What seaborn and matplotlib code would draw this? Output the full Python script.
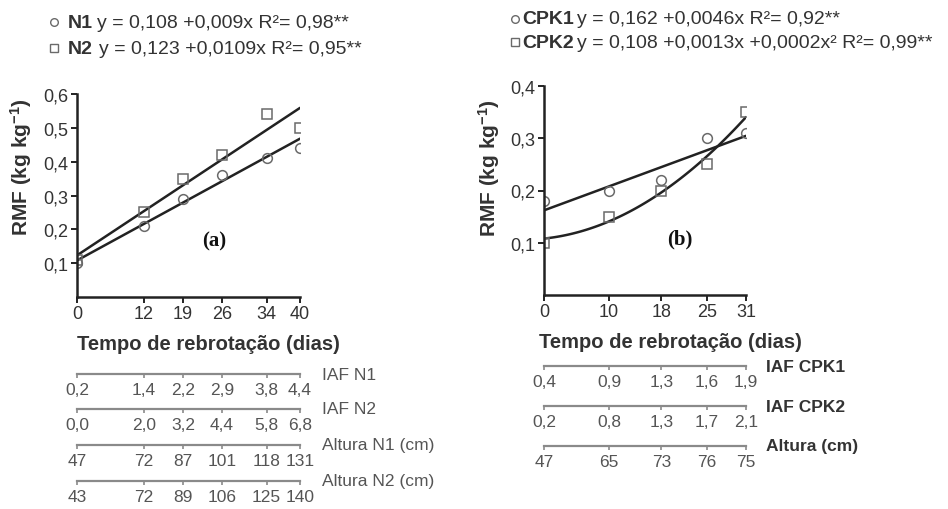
import numpy as np
import pandas as pd
import matplotlib
matplotlib.use("Agg")
import matplotlib.pyplot as plt
from matplotlib.lines import Line2D
import seaborn as sns

# ---------------- data ----------------
dias_a = [0, 12, 19, 26, 34, 40]
rmf_n1 = [0.10, 0.21, 0.29, 0.36, 0.41, 0.44]
rmf_n2 = [0.11, 0.25, 0.35, 0.42, 0.54, 0.50]
coef_n1 = [0.108, 0.009]
coef_n2 = [0.123, 0.0109]

dias_b = [0, 10, 18, 25, 31]
rmf_cpk1 = [0.18, 0.20, 0.22, 0.30, 0.31]
rmf_cpk2 = [0.10, 0.15, 0.20, 0.25, 0.35]
coef_cpk1 = [0.162, 0.0046]
coef_cpk2 = [0.108, 0.0013, 0.0002]

yticks_a = [0.1, 0.2, 0.3, 0.4, 0.5, 0.6]
yticks_b = [0.1, 0.2, 0.3, 0.4]

iaf_n1 = [0.2, 1.4, 2.2, 2.9, 3.8, 4.4]
iaf_n2 = [0.0, 2.0, 3.2, 4.4, 5.8, 6.8]
alt_n1 = [47, 72, 87, 101, 118, 131]
alt_n2 = [43, 72, 89, 106, 125, 140]
rows_a = ["IAF N1", "IAF N2", "Altura N1 (cm)", "Altura N2 (cm)"]

iaf_cpk1 = [0.4, 0.9, 1.3, 1.6, 1.9]
iaf_cpk2 = [0.2, 0.8, 1.3, 1.7, 2.1]
alt_b = [47, 65, 73, 76, 75]
rows_b = ["IAF CPK1", "IAF CPK2", "Altura (cm)"]

hdr_a = [("N1", "y = 0,108 +0,009x R\u00b2= 0,98**"),
         ("N2", "y = 0,123 +0,0109x R\u00b2= 0,95**")]
hdr_b = [("CPK1", "y = 0,162 +0,0046x R\u00b2= 0,92**"),
         ("CPK2", "y = 0,108 +0,0013x +0,0002x\u00b2 R\u00b2= 0,99**")]

# ---------------- style ----------------
sns.set_style("ticks")
plt.rcParams["font.family"] = ["Liberation Sans", "DejaVu Sans"]
plt.rcParams["mathtext.fontset"] = "custom"
plt.rcParams["mathtext.rm"] = "Liberation Sans"
plt.rcParams["mathtext.bf"] = "Liberation Sans:bold"
plt.rcParams["mathtext.it"] = "Liberation Sans:italic"

W, H = 948, 510
fig = plt.figure(figsize=(W / 100, H / 100), dpi=100)
fig.patch.set_facecolor("white")

def fx(px):
    return px / W

def fy(py):
    return 1 - py / H

def comma(v, fmt="{:.1f}"):
    return fmt.format(v).replace(".", ",")

AX_C = "#222222"
TXT_C = "#333333"
MK_C = "#6a6a6a"

def main_axes(rect, dias, s1, s2, c1, c2, yticks, ylim, tag, tagpos):
    ax = fig.add_axes(rect)
    xfit = np.linspace(dias[0], dias[-1], 120)
    yfit1 = sum(c * xfit ** i for i, c in enumerate(c1))
    yfit2 = sum(c * xfit ** i for i, c in enumerate(c2))
    sns.lineplot(x=xfit, y=yfit1, ax=ax, color=AX_C, lw=1.8)
    sns.lineplot(x=xfit, y=yfit2, ax=ax, color=AX_C, lw=1.8)
    df1 = pd.DataFrame({"x": dias, "y": s1})
    df2 = pd.DataFrame({"x": dias, "y": s2})
    sns.lineplot(data=df1, x="x", y="y", ax=ax, linestyle="", marker="o",
                 ms=7, mfc="none", mec=MK_C, mew=1.1)
    sns.lineplot(data=df2, x="x", y="y", ax=ax, linestyle="", marker="s",
                 ms=7, mfc="none", mec=MK_C, mew=1.1)
    ax.set_xlim(dias[0], dias[-1])
    ax.set_ylim(*ylim)
    ax.set_xticks(dias)
    ax.set_xticklabels([str(d) for d in dias])
    ax.set_yticks(yticks)
    ax.set_yticklabels([comma(v) for v in yticks])
    ax.set_xlabel("")
    ax.set_ylabel("")
    for s in ["top", "right"]:
        ax.spines[s].set_visible(False)
    for s in ["left", "bottom"]:
        ax.spines[s].set_color(AX_C)
        ax.spines[s].set_linewidth(1.8)
    ax.tick_params(axis="both", colors=AX_C, labelcolor=TXT_C, labelsize=13,
                   length=4, width=1.4, pad=2, direction="out")
    ax.patch.set_alpha(0)
    ax.text(tagpos[0], tagpos[1], tag, transform=ax.transAxes, ha="center",
            va="center", fontsize=15, fontweight="bold",
            family=["Liberation Serif"], color="#111111")
    return ax

def table_row(x0, x1, ypx, dias, labels, name, bold):
    ax = fig.add_axes([fx(x0), fy(ypx), fx(x1 - x0), 0.0001])
    ax.set_xlim(dias[0], dias[-1])
    ax.set_ylim(0, 1)
    ax.set_xticks(dias)
    ax.set_xticklabels(labels)
    ax.set_yticks([])
    for s in ["top", "right", "left"]:
        ax.spines[s].set_visible(False)
    ax.spines["bottom"].set_color("#8a8a8a")
    ax.spines["bottom"].set_linewidth(1.6)
    ax.tick_params(axis="x", colors="#8a8a8a", labelcolor="#555555",
                   labelsize=12.5, length=3, width=1.2, pad=3)
    ax.patch.set_alpha(0)
    ax.text(1.10, 0, name, transform=ax.transAxes, ha="left", va="center",
            fontsize=12.5,
            fontweight="bold" if bold else "normal",
            color="#555555" if not bold else "#333333")
    return ax

# ---------------- panel (a) ----------------
ax_a = main_axes([fx(77), fy(298), fx(300 - 77), (298 - 95) / H],
                 dias_a, rmf_n1, rmf_n2, coef_n1, coef_n2,
                 yticks_a, (0, 0.6), "(a)", (0.615, 0.28))
fig.text(fx(21), fy(167), r"RMF (kg kg$^{\mathbf{-1}}$)", rotation=90,
         ha="center", va="center", fontsize=15, fontweight="bold", color=TXT_C)
fig.text(fx(208), fy(345), "Tempo de rebrotação (dias)", ha="center",
         va="center", fontsize=14.5, fontweight="bold", color=TXT_C)
rows_vals_a = [[comma(v) for v in iaf_n1], [comma(v) for v in iaf_n2],
               [str(v) for v in alt_n1], [str(v) for v in alt_n2]]
for ypx, labs, name in zip([375, 410, 446, 482], rows_vals_a, rows_a):
    table_row(77, 300, ypx, dias_a, labs, name, False)

# ---------------- panel (b) ----------------
ax_b = main_axes([fx(544), fy(296), fx(746 - 544), (296 - 87) / H],
                 dias_b, rmf_cpk1, rmf_cpk2, coef_cpk1, coef_cpk2,
                 yticks_b, (0, 0.4), "(b)", (0.67, 0.27))
fig.text(fx(489), fy(168), r"RMF (kg kg$^{\mathbf{-1}}$)", rotation=90,
         ha="center", va="center", fontsize=15, fontweight="bold", color=TXT_C)
fig.text(fx(670), fy(343), "Tempo de rebrotação (dias)", ha="center",
         va="center", fontsize=14.5, fontweight="bold", color=TXT_C)
rows_vals_b = [[comma(v) for v in iaf_cpk1], [comma(v) for v in iaf_cpk2],
               [str(v) for v in alt_b]]
for ypx, labs, name in zip([367, 407, 447], rows_vals_b, rows_b):
    table_row(544, 746, ypx, dias_b, labs, name, True)

# ---------------- headers ----------------
def header(xm, xb, xt, ypx, marker, bold, rest):
    fig.add_artist(Line2D([fx(xm)], [fy(ypx)], marker=marker, ms=5.5,
                          mfc="none", mec=MK_C, mew=1.0, ls="",
                          transform=fig.transFigure))
    fig.text(fx(xb), fy(ypx), bold, ha="left", va="center", fontsize=14,
             fontweight="bold", color=TXT_C)
    fig.text(fx(xt), fy(ypx), rest, ha="left", va="center", fontsize=14,
             color=TXT_C)

header(54, 68, 97, 23, "o", hdr_a[0][0], hdr_a[0][1])
header(54, 68, 99, 49, "s", hdr_a[1][0], hdr_a[1][1])
header(515, 522, 577, 20, "o", hdr_b[0][0], hdr_b[0][1])
header(515, 522, 577, 43, "s", hdr_b[1][0], hdr_b[1][1])

fig.savefig("out.png", dpi=100)
